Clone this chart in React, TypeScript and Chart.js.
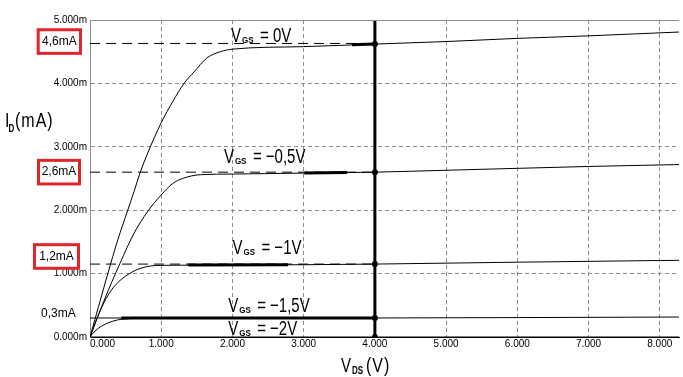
import React, { useEffect, useRef } from 'react';
import { Chart, registerables } from 'chart.js';

Chart.register(...registerables);

// ---------- data ----------
const X_MAX = 8.27;
const Y_MAX = 5;
const xTickValues = [0, 1, 2, 3, 4, 5, 6, 7, 8];
const xTickLabels = ['0.000', '1.000', '2.000', '3.000', '4.000', '5.000', '6.000', '7.000', '8.000'];
const yTickValues = [0, 1, 2, 3, 4, 5];
const yTickLabels = ['0.000m', '1.000m', '2.000m', '3.000m', '4.000m', '5.000m'];

const vgs0: number[][] = [
  [0, 0], [0.12, 0.48], [0.25, 1.0], [0.39, 1.53], [0.53, 2.0], [0.62, 2.3], [0.7, 2.58],
  [0.81, 2.9], [1.0, 3.38], [1.16, 3.71], [1.32, 4.0], [1.46, 4.18], [1.64, 4.4], [1.83, 4.5],
  [2.0, 4.54], [3.0, 4.58], [4.0, 4.62], [5.0, 4.66], [6.0, 4.71], [7.0, 4.75], [8.27, 4.81],
];
const vgsM05: number[][] = [
  [0, 0], [0.2, 0.58], [0.42, 1.16], [0.62, 1.64], [0.81, 1.98], [1.0, 2.24], [1.16, 2.42],
  [1.3, 2.5], [1.55, 2.56], [2.0, 2.57], [3.0, 2.585], [4.0, 2.6], [5.0, 2.63], [6.0, 2.66],
  [7.0, 2.69], [8.27, 2.72],
];
const vgsM1: number[][] = [
  [0, 0], [0.1, 0.3], [0.2, 0.55], [0.3, 0.74], [0.4, 0.87], [0.5, 0.96], [0.6, 1.03],
  [0.7, 1.08], [0.85, 1.12], [1.0, 1.13], [2.0, 1.135], [3.0, 1.14], [4.0, 1.15], [6.0, 1.18],
  [8.27, 1.21],
];
const vgsM15: number[][] = [
  [0, 0], [0.05, 0.07], [0.12, 0.14], [0.25, 0.22], [0.39, 0.27], [0.5, 0.285], [0.7, 0.295],
  [1.0, 0.297], [4.0, 0.3], [8.27, 0.315],
];
const vgsM2: number[][] = [[0, 0], [8.27, 0]];

// thick overlay segments on the curves
const boldSegments: number[][][] = [
  [[3.68, 4.61], [4.0, 4.62]],
  [[3.01, 2.585], [3.61, 2.595]],
  [[1.38, 1.135], [2.78, 1.14]],
  [[0.44, 0.3], [4.0, 0.3]],
];

const dashedLevels = [4.63, 2.6, 1.15];
const solidLevel = 0.3;
const markerX = 4;
const markerLevels = [0, 0.3, 1.15, 2.6, 4.62];

const curveLabelValues = ['= 0V', '= \u22120,5V', '= \u22121V', '= \u22121,5V', '= \u22122V'];
const boxLabels = ['4,6mA', '2,6mA', '1,2mA'];
const plainLabel = '0,3mA';

// ---------- helpers ----------
const FONT = '"Liberation Sans", Arial, sans-serif';

function stretched(ctx: CanvasRenderingContext2D, text: string, x: number, y: number, font: string, sy: number, spacing = '0px') {
  ctx.save();
  ctx.translate(x, y);
  ctx.scale(1, sy);
  ctx.font = font;
  (ctx as any).letterSpacing = spacing;
  ctx.textAlign = 'left';
  ctx.textBaseline = 'alphabetic';
  ctx.fillStyle = '#000';
  ctx.fillText(text, 0, 0);
  ctx.restore();
}

const toPts = (arr: number[][]) => arr.map(([x, y]) => ({ x, y }));

const overlayPlugin = {
  id: 'overlay',
  afterDraw(chart: any) {
    const ctx: CanvasRenderingContext2D = chart.ctx;
    const xs = chart.scales.x;
    const ys = chart.scales.y;
    const area = chart.chartArea;
    ctx.save();

    // top border
    ctx.strokeStyle = '#8c8c8c';
    ctx.lineWidth = 1;
    ctx.beginPath();
    const ty = Math.round(ys.getPixelForValue(Y_MAX)) + 0.5;
    ctx.moveTo(area.left, ty);
    ctx.lineTo(area.right, ty);
    ctx.stroke();

    // tick labels
    ctx.fillStyle = '#000';
    ctx.font = `10px ${FONT}`;
    ctx.textBaseline = 'middle';
    ctx.textAlign = 'right';
    yTickValues.forEach((v, i) => {
      ctx.fillText(yTickLabels[i], area.left - 3, ys.getPixelForValue(v));
    });
    xTickValues.forEach((v, i) => {
      const px = xs.getPixelForValue(v);
      ctx.textAlign = i === 0 ? 'left' : 'center';
      ctx.fillText(xTickLabels[i], i === 0 ? px : px, area.bottom + 7);
    });

    // axis titles
    stretched(ctx, 'I', 5, 127, `16px ${FONT}`, 1.3);
    stretched(ctx, 'D', 8.5, 132, `bold 8px ${FONT}`, 1.3);
    stretched(ctx, '(mA)', 15, 127, `16px ${FONT}`, 1.3, '1px');

    stretched(ctx, 'V', 341, 371.5, `15px ${FONT}`, 1.3);
    stretched(ctx, 'DS', 352, 373.5, `bold 8px ${FONT}`, 1.3);
    stretched(ctx, '(V)', 366, 371.5, `16px ${FONT}`, 1.3, '1px');

    // curve labels (anchor in data coords)
    const anchors = [[1.98, 4.65], [1.88, 2.74], [2.0, 1.31], [1.94, 0.39], [1.94, 0.03]];
    anchors.forEach(([vx, vy], i) => {
      const px = xs.getPixelForValue(vx);
      const py = ys.getPixelForValue(vy);
      stretched(ctx, 'V', px, py, `15px ${FONT}`, 1.35);
      stretched(ctx, 'GS', px + 11, py + 1, `bold 8px ${FONT}`, 1.1);
      stretched(ctx, curveLabelValues[i], px + 29, py, `15px ${FONT}`, 1.35);
    });

    // red boxed labels
    const boxCenters = [4.66, 2.6, 1.27];
    const boxX = [[38.2, 80.5], [38.5, 79.5], [34.5, 78.5]];
    boxLabels.forEach((t, i) => {
      const cy = ys.getPixelForValue(boxCenters[i]);
      const [x1, x2] = boxX[i];
      ctx.strokeStyle = '#e0262d';
      ctx.lineWidth = 3;
      ctx.strokeRect(x1, cy - 11.8, x2 - x1, 23.6);
      ctx.fillStyle = '#000';
      ctx.font = `12px ${FONT}`;
      ctx.textAlign = 'center';
      ctx.textBaseline = 'middle';
      ctx.fillText(t, (x1 + x2) / 2, cy);
    });
    ctx.font = `12px ${FONT}`;
    ctx.textAlign = 'left';
    ctx.textBaseline = 'alphabetic';
    ctx.fillStyle = '#000';
    ctx.fillText(plainLabel, 41, ys.getPixelForValue(0.32));

    ctx.restore();
  },
};

export default function App() {
  const ref = useRef<HTMLCanvasElement>(null);

  useEffect(() => {
    if (!ref.current) return;
    const curve = (data: number[][]) => ({
      data: toPts(data),
      borderColor: '#000',
      borderWidth: 1,
      pointRadius: 0,
      fill: false,
      cubicInterpolationMode: 'monotone' as const,
    });
    const datasets: any[] = [];
    // vertical marker line with dots
    datasets.push({
      data: [...markerLevels.map((y) => ({ x: markerX, y })), { x: markerX, y: Y_MAX }],
      borderColor: '#000',
      backgroundColor: '#000',
      borderWidth: 3,
      pointRadius: [...markerLevels.map(() => 3), 0],
      pointBorderWidth: 0,
      fill: false,
      tension: 0,
    });
    boldSegments.forEach((seg) =>
      datasets.push({ data: toPts(seg), borderColor: '#000', borderWidth: 3, pointRadius: 0, fill: false, tension: 0 })
    );
    [vgs0, vgsM05, vgsM1, vgsM15, vgsM2].forEach((c) => datasets.push(curve(c)));
    dashedLevels.forEach((lv) =>
      datasets.push({
        data: [{ x: 0, y: lv }, { x: markerX, y: lv }],
        borderColor: '#000',
        borderWidth: 1,
        borderDash: [10, 6],
        pointRadius: 0,
        fill: false,
      })
    );
    datasets.push({
      data: [{ x: 0, y: solidLevel }, { x: markerX, y: solidLevel }],
      borderColor: '#000',
      borderWidth: 1,
      pointRadius: 0,
      fill: false,
    });

    const gridColor = '#8c8c8c';
    const chart = new Chart(ref.current, {
      type: 'line',
      data: { datasets },
      plugins: [overlayPlugin],
      options: {
        responsive: false,
        animation: false,
        maintainAspectRatio: false,
        layout: { padding: { left: 90, top: 20, right: 0, bottom: 40 } },
        plugins: { legend: { display: false }, tooltip: { enabled: false } },
        scales: {
          x: {
            type: 'linear',
            min: 0,
            max: X_MAX,
            ticks: { display: false, stepSize: 1, includeBounds: false } as any,
            grid: {
              drawTicks: false,
              lineWidth: 1,
              color: (c: any) => (c.tick && c.tick.value === 0 ? 'rgba(0,0,0,0)' : gridColor),
            },
            border: { display: true, color: '#000', width: 1, dash: [4, 3] },
          },
          y: {
            type: 'linear',
            min: 0,
            max: Y_MAX,
            ticks: { display: false, stepSize: 1 },
            grid: {
              drawTicks: false,
              lineWidth: 1,
              color: (c: any) =>
                c.tick && (c.tick.value === 0 || c.tick.value === Y_MAX) ? 'rgba(0,0,0,0)' : gridColor,
            },
            border: { display: true, color: gridColor, width: 1, dash: [4, 3] },
          },
        },
      },
    });
    return () => chart.destroy();
  }, []);

  return (
    <div style={{ position: 'absolute', left: 0, top: 0, width: 683, height: 377, background: '#fff' }}>
      <canvas ref={ref} width={683} height={377} style={{ display: 'block' }} />
    </div>
  );
}
